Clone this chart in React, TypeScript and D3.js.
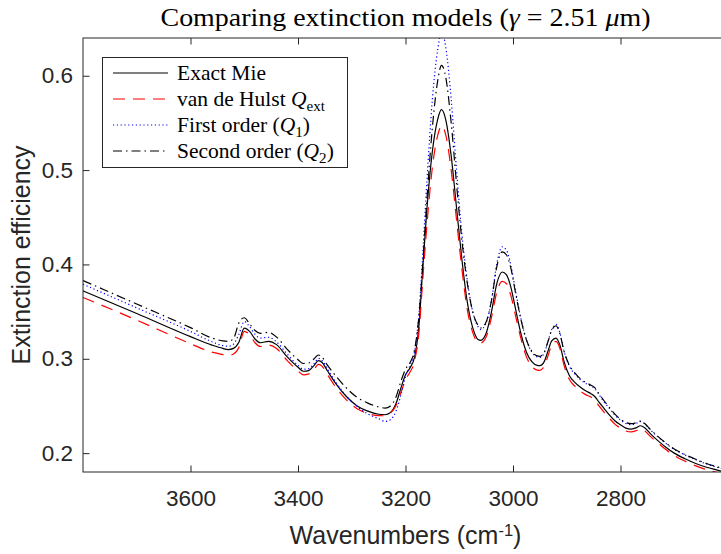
import { useEffect, useRef } from 'react';
import * as d3 from 'd3';

// Wavenumber grid (cm^-1), shared by all four curves
const wavenumbers = [
  3800, 3700, 3600, 3560, 3540, 3530, 3520, 3510, 3500, 3490,
  3480, 3470, 3455, 3440, 3420, 3400, 3390, 3380, 3370, 3362,
  3355, 3345, 3330, 3310, 3290, 3270, 3250, 3238, 3228, 3218,
  3208, 3200, 3192, 3183, 3175, 3168, 3160, 3150, 3140, 3133,
  3125, 3115, 3105, 3095, 3085, 3075, 3065, 3060, 3050, 3040,
  3030, 3020, 3012, 3004, 2995, 2985, 2975, 2965, 2955, 2950,
  2942, 2935, 2928, 2920, 2913, 2905, 2895, 2885, 2875, 2865,
  2855, 2848, 2840, 2830, 2820, 2810, 2800, 2790, 2780, 2770,
  2763, 2755, 2745, 2730, 2715, 2700, 2680, 2660, 2640, 2620,
  2600
];

const exactMie = [
  0.372, 0.348, 0.3235, 0.3145, 0.311, 0.3098, 0.311, 0.3175, 0.3325, 0.329,
  0.321, 0.317, 0.3185, 0.315, 0.302, 0.291, 0.2868, 0.2875, 0.293, 0.298,
  0.296, 0.287, 0.274, 0.26, 0.25, 0.2445, 0.2412, 0.2407, 0.243, 0.252,
  0.27, 0.283, 0.29, 0.302, 0.335, 0.395, 0.46, 0.52, 0.554, 0.564,
  0.553, 0.515, 0.46, 0.405, 0.36, 0.333, 0.3205, 0.3196, 0.327, 0.35,
  0.38, 0.392, 0.389, 0.376, 0.352, 0.326, 0.307, 0.297, 0.293, 0.2927,
  0.297, 0.308, 0.319, 0.322, 0.315, 0.297, 0.282, 0.275, 0.27, 0.266,
  0.263, 0.26, 0.254, 0.247, 0.24, 0.234, 0.23, 0.2265, 0.2255, 0.227,
  0.229, 0.227, 0.221, 0.213, 0.206, 0.2, 0.194, 0.189, 0.185, 0.182,
  0.179
];

const vanDeHulst = [
  0.365, 0.341, 0.316, 0.307, 0.3045, 0.3035, 0.305, 0.312, 0.329, 0.3255,
  0.317, 0.313, 0.3145, 0.311, 0.298, 0.287, 0.283, 0.284, 0.289, 0.294,
  0.292, 0.283, 0.27, 0.2565, 0.247, 0.242, 0.2397, 0.2396, 0.2425, 0.25,
  0.265, 0.278, 0.2855, 0.298, 0.328, 0.383, 0.443, 0.503, 0.537, 0.547,
  0.537, 0.5, 0.447, 0.395, 0.352, 0.328, 0.3175, 0.3168, 0.323, 0.344,
  0.371, 0.382, 0.3795, 0.367, 0.345, 0.321, 0.302, 0.292, 0.288, 0.2878,
  0.292, 0.303, 0.3145, 0.3185, 0.3115, 0.293, 0.278, 0.271, 0.266, 0.262,
  0.2595, 0.2565, 0.25, 0.243, 0.2365, 0.2305, 0.2265, 0.2235, 0.2225, 0.224,
  0.2255, 0.2235, 0.218, 0.2105, 0.2035, 0.1975, 0.1915, 0.1865, 0.1825, 0.1795,
  0.1765
];

const firstOrder = [
  0.379, 0.354, 0.329, 0.318, 0.314, 0.3133, 0.3155, 0.326, 0.3395, 0.334,
  0.326, 0.322, 0.3228, 0.318, 0.305, 0.293, 0.289, 0.2895, 0.295, 0.3005,
  0.298, 0.289, 0.2755, 0.2605, 0.2495, 0.2415, 0.2365, 0.2336, 0.2355, 0.244,
  0.263, 0.281, 0.2925, 0.308, 0.348, 0.41, 0.49, 0.575, 0.628, 0.646,
  0.63, 0.575, 0.5, 0.432, 0.383, 0.35, 0.334, 0.331, 0.338, 0.362,
  0.401, 0.4187, 0.415, 0.399, 0.371, 0.342, 0.32, 0.307, 0.302, 0.3015,
  0.306, 0.318, 0.331, 0.3365, 0.328, 0.308, 0.292, 0.284, 0.278, 0.274,
  0.271, 0.2685, 0.262, 0.254, 0.247, 0.24, 0.235, 0.2315, 0.2302, 0.2318,
  0.2335, 0.231, 0.225, 0.217, 0.21, 0.204, 0.198, 0.193, 0.1885, 0.185,
  0.182
];

const secondOrder = [
  0.383, 0.358, 0.333, 0.322, 0.319, 0.3185, 0.3215, 0.338, 0.3435, 0.337,
  0.33, 0.327, 0.328, 0.323, 0.31, 0.299, 0.295, 0.2955, 0.3, 0.304,
  0.3015, 0.293, 0.282, 0.269, 0.259, 0.253, 0.249, 0.2478, 0.25, 0.259,
  0.277, 0.289, 0.2955, 0.31, 0.345, 0.4, 0.47, 0.545, 0.595, 0.611,
  0.598, 0.55, 0.485, 0.425, 0.38, 0.35, 0.3355, 0.3327, 0.339, 0.362,
  0.398, 0.4134, 0.41, 0.396, 0.369, 0.341, 0.32, 0.308, 0.303, 0.3026,
  0.307, 0.318, 0.33, 0.335, 0.327, 0.308, 0.293, 0.285, 0.279, 0.275,
  0.272, 0.2695, 0.263, 0.255, 0.248, 0.241, 0.236, 0.2325, 0.2312, 0.2325,
  0.234, 0.2315, 0.2255, 0.2175, 0.2105, 0.2045, 0.1985, 0.1935, 0.189, 0.1855,
  0.1825
];

const xTicks = [3600, 3400, 3200, 3000, 2800];
const yTicks = [0.2, 0.3, 0.4, 0.5, 0.6];

type Part = { t: string; italic?: boolean; sub?: boolean };

const series = [
  { values: exactMie, color: '#000000', dash: null as string | null },
  { values: vanDeHulst, color: '#ff0000', dash: '12,8' },
  { values: firstOrder, color: '#0000ff', dash: '1.2,2.6' },
  { values: secondOrder, color: '#000000', dash: '9,4,1.5,4' }
];

const legendLabels: Part[][] = [
  [{ t: 'Exact Mie' }],
  [{ t: 'van de Hulst ' }, { t: 'Q', italic: true }, { t: 'ext', sub: true }],
  [{ t: 'First order (' }, { t: 'Q', italic: true }, { t: '1', sub: true }, { t: ')' }],
  [{ t: 'Second order (' }, { t: 'Q', italic: true }, { t: '2', sub: true }, { t: ')' }]
];

const W = 721;
const H = 554;
const SANS = '"Liberation Sans", Arial, Helvetica, sans-serif';
const SERIF = '"Liberation Serif", "Times New Roman", serif';
const AXIS = '#262626';

// writes a run of parts into a <text>, handling italics and subscripts
const writeParts = (text: d3.Selection<SVGTextElement, unknown, null, undefined>, parts: Part[], fs: number) => {
  let shifted = 0;
  parts.forEach((p) => {
    const ts = text.append('tspan').text(p.t);
    if (p.italic) ts.style('font-style', 'italic');
    if (p.sub) {
      ts.attr('dy', 5).style('font-size', `${fs * 0.7}px`);
      shifted = 5;
    } else if (shifted) {
      ts.attr('dy', -shifted);
      shifted = 0;
    }
  });
};

export default function App() {
  const ref = useRef<SVGSVGElement | null>(null);

  useEffect(() => {
    if (!ref.current) return;
    document.body.style.margin = '0';
    const svg = d3.select(ref.current);
    svg.selectAll('*').remove();

    const left = 83;
    const right = 728;
    const top = 38;
    const bottom = 472;

    const x = d3.scaleLinear().domain([3800, 2600]).range([left, right]);
    const y = d3.scaleLinear().domain([0.18, 0.64]).range([bottom, top]);

    svg.append('rect').attr('width', W).attr('height', H).attr('fill', '#ffffff');

    svg
      .append('defs')
      .append('clipPath')
      .attr('id', 'plot-clip')
      .append('rect')
      .attr('x', left)
      .attr('y', top)
      .attr('width', right - left)
      .attr('height', bottom - top);

    // curves
    const plot = svg.append('g').attr('clip-path', 'url(#plot-clip)');
    series.forEach((s) => {
      const line = d3
        .line<number>()
        .x((_, i) => x(wavenumbers[i]))
        .y((d) => y(d))
        .curve(d3.curveMonotoneX);
      const p = plot
        .append('path')
        .datum(s.values)
        .attr('fill', 'none')
        .attr('stroke', s.color)
        .attr('stroke-width', 1.2)
        .attr('d', line);
      if (s.dash) p.attr('stroke-dasharray', s.dash);
    });

    // axes (ticks point inward, box on)
    const styleAxis = (g: d3.Selection<SVGGElement, unknown, null, undefined>) => {
      g.select('.domain').remove();
      g.selectAll('.tick line').attr('stroke', AXIS).attr('stroke-width', 1);
      g.selectAll('.tick text').attr('fill', AXIS).style('font-family', SANS).style('font-size', '22.5px');
    };

    svg
      .append('g')
      .attr('transform', `translate(0,${bottom})`)
      .call(d3.axisBottom(x).tickValues(xTicks).tickSize(-6.5).tickSizeOuter(0).tickPadding(18).tickFormat(d3.format('d')))
      .call(styleAxis);

    svg
      .append('g')
      .attr('transform', `translate(0,${top})`)
      .call(d3.axisTop(x).tickValues(xTicks).tickSize(-6.5).tickSizeOuter(0).tickFormat(() => ''))
      .call(styleAxis);

    svg
      .append('g')
      .attr('transform', `translate(${left},0)`)
      .call(d3.axisLeft(y).tickValues(yTicks).tickSize(-6.5).tickSizeOuter(0).tickPadding(10).tickFormat(d3.format('.1f')))
      .call(styleAxis);

    svg
      .append('g')
      .attr('transform', `translate(${right},0)`)
      .call(d3.axisRight(y).tickValues(yTicks).tickSize(-6.5).tickSizeOuter(0).tickFormat(() => ''))
      .call(styleAxis);

    svg
      .append('rect')
      .attr('x', left)
      .attr('y', top)
      .attr('width', right - left)
      .attr('height', bottom - top)
      .attr('fill', 'none')
      .attr('stroke', AXIS)
      .attr('stroke-width', 1);

    // legend
    const lg = svg.append('g');
    lg.append('rect')
      .attr('x', 102.5)
      .attr('y', 57.5)
      .attr('width', 245)
      .attr('height', 110)
      .attr('fill', '#ffffff')
      .attr('stroke', AXIS)
      .attr('stroke-width', 1);

    legendLabels.forEach((parts, i) => {
      const cy = 73 + i * 26;
      const s = series[i];
      const ln = lg
        .append('line')
        .attr('x1', 113)
        .attr('x2', 168)
        .attr('y1', cy)
        .attr('y2', cy)
        .attr('stroke', s.color)
        .attr('stroke-width', 1.2);
      if (s.dash) ln.attr('stroke-dasharray', s.dash);
      const t = lg
        .append('text')
        .attr('x', 177)
        .attr('y', cy + 7)
        .attr('fill', '#000')
        .style('font-family', SERIF)
        .style('font-size', '21.5px');
      writeParts(t, parts, 21.5);
    });

    // title
    const title = svg
      .append('text')
      .attr('x', (left + right) / 2)
      .attr('y', 26)
      .attr('text-anchor', 'middle')
      .attr('textLength', 490)
      .attr('lengthAdjust', 'spacingAndGlyphs')
      .attr('fill', '#000')
      .style('font-family', SERIF)
      .style('font-size', '26px');
    title.append('tspan').text('Comparing extinction models (');
    title.append('tspan').text('γ').style('font-style', 'italic');
    title.append('tspan').text(' = 2.51 ');
    title.append('tspan').text('μ').style('font-style', 'italic');
    title.append('tspan').text('m)');

    // x label
    const xl = svg
      .append('text')
      .attr('x', (left + right) / 2)
      .attr('y', 544)
      .attr('text-anchor', 'middle')
      .attr('fill', AXIS)
      .style('font-family', SANS)
      .style('font-size', '25px');
    xl.append('tspan').text('Wavenumbers (cm');
    xl.append('tspan').text('-1').attr('dy', -8).style('font-size', '16.5px');
    xl.append('tspan').text(')').attr('dy', 8);

    // y label
    svg
      .append('text')
      .attr('transform', `translate(30,${(top + bottom) / 2}) rotate(-90)`)
      .attr('text-anchor', 'middle')
      .attr('fill', AXIS)
      .style('font-family', SANS)
      .style('font-size', '25px')
      .text('Extinction efficiency');
  }, []);

  return <svg ref={ref} width={W} height={H} style={{ display: 'block' }} />;
}
